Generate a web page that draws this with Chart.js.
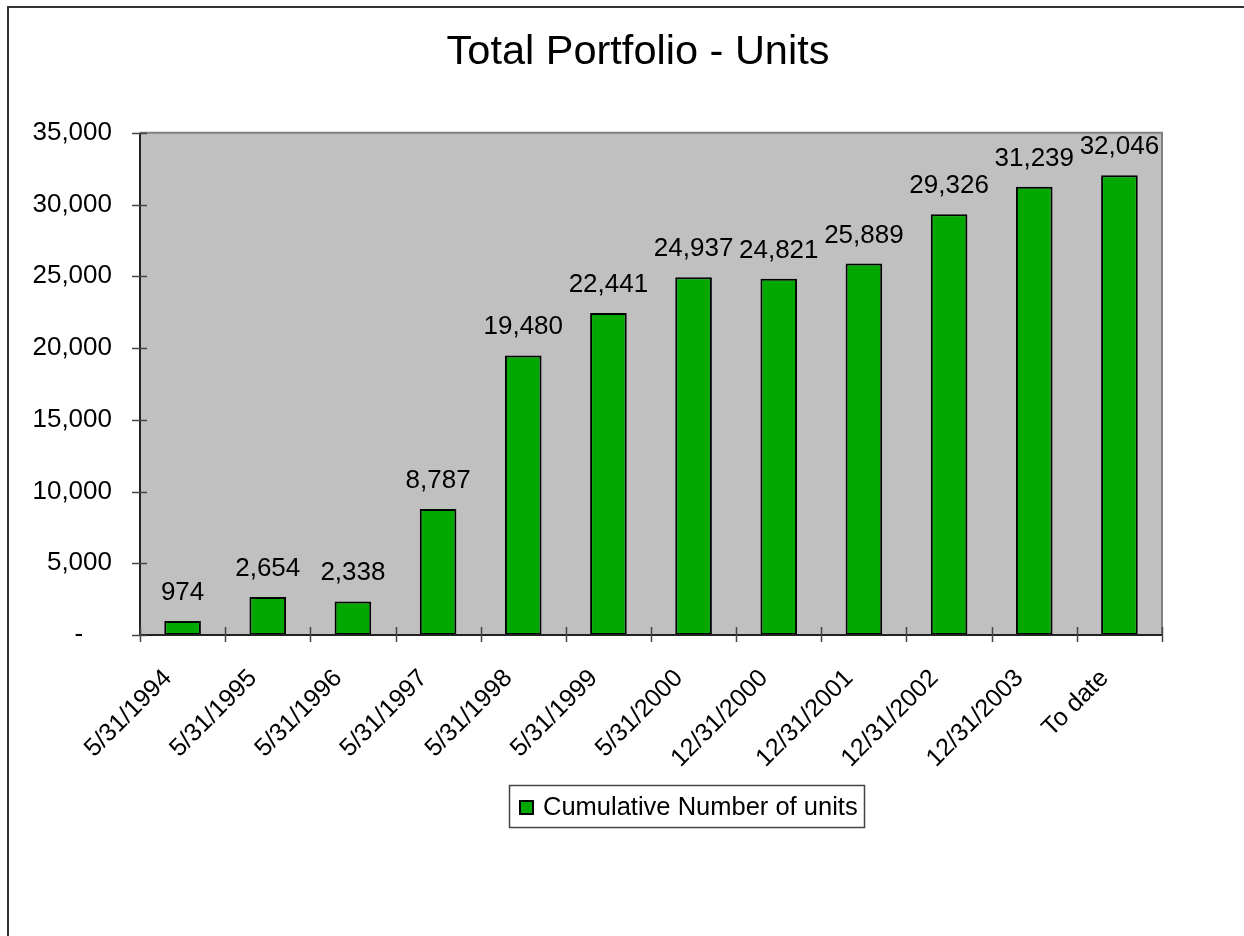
<!DOCTYPE html>
<html>
<head>
<meta charset="utf-8">
<title>Total Portfolio - Units</title>
<script src="https://cdn.jsdelivr.net/npm/chart.js@4"></script>
<style>
  html, body { margin: 0; padding: 0; background: #fff; }
</style>
</head>
<body>
<canvas id="canvas" width="1244" height="936"></canvas>
<script>
var categories = ["5/31/1994", "5/31/1995", "5/31/1996", "5/31/1997", "5/31/1998", "5/31/1999",
    "5/31/2000", "12/31/2000", "12/31/2001", "12/31/2002", "12/31/2003", "To date"];
var units = [974, 2654, 2338, 8787, 19480, 22441, 24937, 24821, 25889, 29326, 31239, 32046];
var yTicks = [0, 5000, 10000, 15000, 20000, 25000, 30000, 35000];
var seriesName = "Cumulative Number of units";

const FONT = "'Liberation Sans', Arial, sans-serif";
const GREEN = "#00A800";

// frame, plot background, axis lines and the crossing tick marks
const frame = {
    id: "frame",
    beforeDraw(chart) {
        const c = chart.ctx;
        c.save();
        c.fillStyle = "#fff";
        c.fillRect(0, 0, chart.width, chart.height);
        c.strokeStyle = "#333";
        c.lineWidth = 2;
        c.beginPath();
        c.moveTo(8, chart.height);
        c.lineTo(8, 7);
        c.lineTo(chart.width, 7);
        c.stroke();
        const a = chart.chartArea;
        c.fillStyle = "#C0C0C0";
        c.fillRect(a.left, a.top, a.right - a.left, a.bottom - a.top);
        c.restore();
    },
    afterDatasetsDraw(chart) {
        const c = chart.ctx;
        const a = chart.chartArea;
        const x = chart.scales.x, y = chart.scales.y;
        c.save();
        c.lineWidth = 2;
        c.strokeStyle = "#808080";
        c.beginPath();
        c.moveTo(a.left, a.top);
        c.lineTo(a.right, a.top);
        c.lineTo(a.right, a.bottom);
        c.stroke();
        c.strokeStyle = "#222";
        c.beginPath();
        c.moveTo(a.left, a.top);
        c.lineTo(a.left, a.bottom);
        c.lineTo(a.right, a.bottom);
        c.stroke();
        c.lineWidth = 1.5;
        c.strokeStyle = "#444";
        c.beginPath();
        yTicks.forEach(v => {
            const py = Math.round(y.getPixelForValue(v)) + 0.5;
            c.moveTo(a.left - 8, py);
            c.lineTo(a.left + 7, py);
        });
        const half = (x.getPixelForValue(1) - x.getPixelForValue(0)) / 2;
        for (let i = 0; i <= categories.length; i++) {
            const px = Math.round(x.getPixelForValue(i) - half) + 0.5;
            c.moveTo(px, a.bottom - 8);
            c.lineTo(px, a.bottom + 7);
        }
        c.stroke();

        // values above the bars
        c.fillStyle = "#000";
        c.font = "26px " + FONT;
        c.textAlign = "center";
        c.textBaseline = "alphabetic";
        chart.getDatasetMeta(0).data.forEach((bar, i) => {
            c.fillText(units[i].toLocaleString("en-US"), bar.x, bar.y - 21);
        });

        // legend box
        const ds = chart.data.datasets[0];
        c.lineWidth = 1.5;
        c.strokeStyle = "#444";
        c.strokeRect(509.5, 785.5, 355, 42);
        c.fillStyle = ds.backgroundColor;
        c.fillRect(519, 800, 15, 15);
        c.lineWidth = 2;
        c.strokeStyle = "#000";
        c.strokeRect(520, 801, 13, 13);
        c.fillStyle = "#000";
        c.textAlign = "left";
        c.font = "25.5px " + FONT;
        c.fillText(ds.label, 543, 815);
        c.restore();
    }
};

const ctx = document.getElementById("canvas").getContext("2d");
new Chart(ctx, {
    type: "bar",
    data: {
        labels: categories,
        datasets: [{
            label: seriesName,
            data: units,
            backgroundColor: GREEN,
            borderColor: "#000",
            borderWidth: 2,
            borderSkipped: false,
            categoryPercentage: 1,
            barPercentage: 0.43
        }]
    },
    options: {
        responsive: false,
        animation: false,
        layout: { padding: { left: 32, right: 0, top: 0, bottom: 0 } },
        plugins: {
            legend: { display: false },
            tooltip: { enabled: false },
            title: {
                display: true,
                text: "Total Portfolio - Units",
                color: "#000",
                font: { family: FONT, size: 41.5, weight: "normal" },
                padding: { top: 28, bottom: 55 }
            }
        },
        scales: {
            x: {
                grid: { display: false, drawTicks: false },
                border: { display: false },
                ticks: {
                    color: "#000",
                    font: { family: FONT, size: 25 },
                    minRotation: 45,
                    maxRotation: 45,
                    autoSkip: false,
                    padding: 14,
                    callback: function (v) { return this.getLabelForValue(v) + "   "; }
                },
                afterFit: s => { s.height = 301; }
            },
            y: {
                min: 0,
                max: 35000,
                grid: { display: false, drawTicks: false },
                border: { display: false },
                afterBuildTicks: s => { s.ticks = yTicks.map(v => ({ value: v })); },
                ticks: {
                    color: "#000",
                    font: { family: FONT, size: 26 },
                    padding: 28,
                    callback: v => v === 0 ? "-    " : v.toLocaleString("en-US")
                },
                afterFit: s => { s.width = 108; }
            },
            y2: {
                position: "right",
                grid: { display: false, drawTicks: false },
                border: { display: false },
                ticks: { display: false },
                afterFit: s => { s.width = 82; }
            }
        }
    },
    plugins: [frame]
});
</script>
</body>
</html>
